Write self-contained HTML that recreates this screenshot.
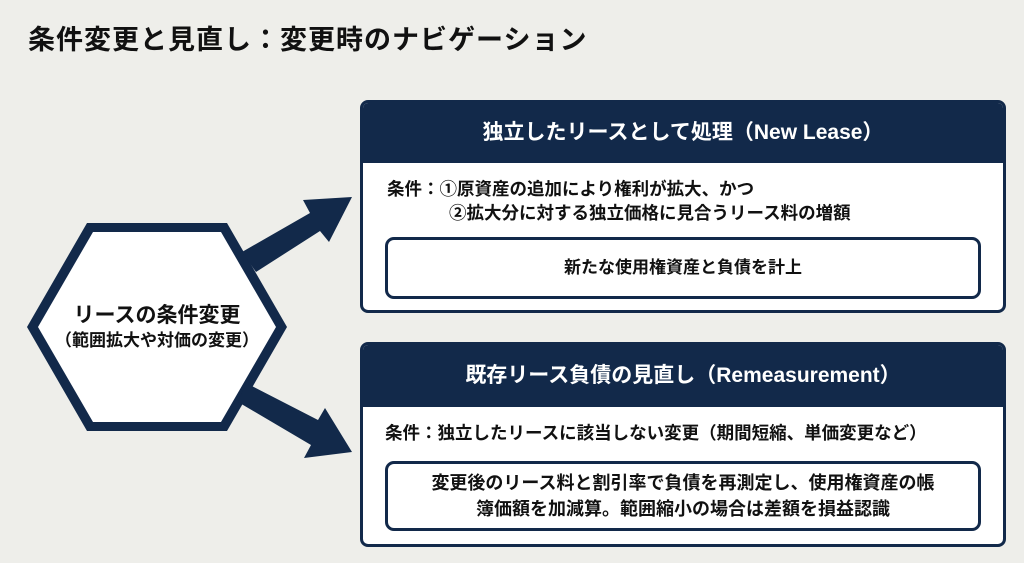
<!DOCTYPE html>
<html><head><meta charset="utf-8"><style>
body{margin:0;width:1024px;height:563px;background:#eeeeea;position:relative;overflow:hidden;font-family:"Liberation Sans","Noto Sans CJK JP",sans-serif;color:#111;font-weight:bold}
.t{position:absolute;left:28px;top:18px;font-size:27px;letter-spacing:1px}
.box{position:absolute;left:360px;width:646px;background:#fff;border:3px solid #12294a;border-radius:8px;box-sizing:border-box;overflow:hidden}
.hd{background:#12294a;color:#fff;text-align:center;font-size:21px}
.in{position:absolute;left:22px;right:22px;border:3px solid #12294a;border-radius:9px;text-align:center;font-size:17px;box-sizing:border-box}
.c{position:absolute;font-size:17.5px;line-height:24px}
</style></head><body>
<div class="t">条件変更と見直し：変更時のナビゲーション</div>
<svg width="1024" height="563" style="position:absolute;left:0;top:0">
<polygon points="27,327 87,223 227,223 287,327 227,431 87,431" fill="#12294a"/>
<polygon points="38,327 93,232 221,232 276,327 221,422 93,422" fill="#fff"/>
<polygon points="242,252 310,213 303,200 352,197 329,242 320,231 256,272" fill="#12294a"/>
<polygon points="246,383 318,420 325,408 352,452 304,458 311,445 238,402" fill="#12294a"/>
<text x="157" y="322" text-anchor="middle" font-size="21" font-weight="bold" fill="#111" font-family="Liberation Sans, Noto Sans CJK JP, sans-serif">リースの条件変更</text>
<text x="157" y="346" text-anchor="middle" font-size="17" font-weight="bold" fill="#111" font-family="Liberation Sans, Noto Sans CJK JP, sans-serif">（範囲拡大や対価の変更）</text>
</svg>
<div class="box" style="top:100px;height:213px">
<div class="hd" style="height:60px;line-height:60px">独立したリースとして処理（New Lease）</div>
<div class="c" style="left:24px;top:74px">条件：①原資産の追加により権利が拡大、かつ<br><span style="padding-left:62px">②拡大分に対する独立価格に見合うリース料の増額</span></div>
<div class="in" style="top:134px;height:62px;line-height:56px">新たな使用権資産と負債を計上</div>
</div>
<div class="box" style="top:342px;height:205px">
<div class="hd" style="height:62px;line-height:62px">既存リース負債の見直し（Remeasurement）</div>
<div class="c" style="left:22px;top:76px">条件：独立したリースに該当しない変更（期間短縮、単価変更など）</div>
<div class="in" style="top:116px;height:70px;line-height:26px;padding-top:6px;font-size:18px">変更後のリース料と割引率で負債を再測定し、使用権資産の帳<br>簿価額を加減算。範囲縮小の場合は差額を損益認識</div>
</div>
</body></html>
